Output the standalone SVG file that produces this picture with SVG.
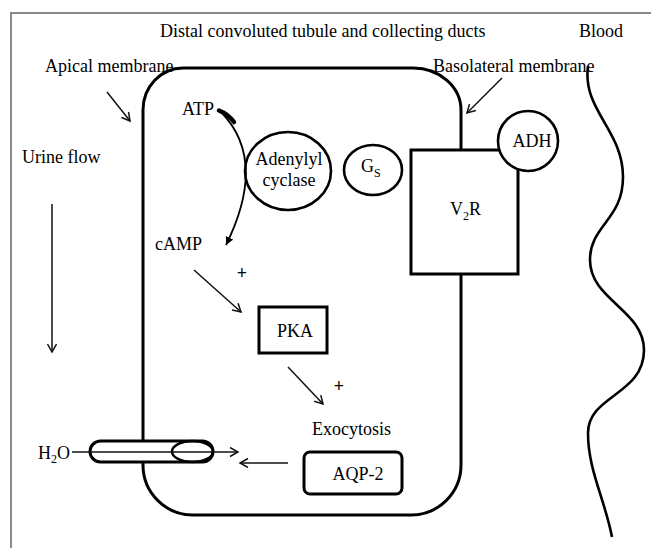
<svg xmlns="http://www.w3.org/2000/svg" width="651" height="548" viewBox="0 0 651 548">
<style>
text{font-family:"Liberation Serif","Times New Roman",serif;font-size:18px;fill:#000}
.sub{font-size:12px}
.plus{font-weight:bold}
.thick{fill:#fff;stroke:#000;stroke-width:3}
.med{fill:#fff;stroke:#000;stroke-width:2.6}
.arr{fill:none;stroke:#111;stroke-width:1.5;marker-end:url(#v)}
</style>
<defs>
<marker id="v" markerUnits="userSpaceOnUse" markerWidth="14" markerHeight="14" refX="9" refY="5" orient="auto">
<path d="M1,0.5 L9,5 L1,9.5" fill="none" stroke="#111" stroke-width="1.5"/>
</marker>
<marker id="fa" markerUnits="userSpaceOnUse" markerWidth="12" markerHeight="12" refX="8" refY="4" orient="auto">
<path d="M0,0 L8,4 L0,8 Z" fill="#000"/>
</marker>
</defs>
<rect x="11" y="13" width="700" height="600" fill="#fff" stroke="#8a8a8a" stroke-width="2"/>
<g id="labels">
<text x="160" y="37">Distal convoluted tubule and collecting ducts</text>
<text x="579" y="37">Blood</text>
<text x="45" y="72">Apical membrane</text>
<text x="433" y="72">Basolateral membrane</text>
<text x="22" y="163">Urine flow</text>
<text x="242" y="279" text-anchor="middle" class="plus">+</text>
<text x="339" y="392" text-anchor="middle" class="plus">+</text>
</g>
<g id="cell">
<path d="M143,110 A40,42 0 0 1 183,68 L413,68 A48,42 0 0 1 461,110 L461,465 A50,50 0 0 1 411,515 L193,515 A50,50 0 0 1 143,465 Z" fill="none" stroke="#000" stroke-width="3"/>
</g>
<g id="blood">
<path d="M588,66 C582,110 623,130 623,177 C623,220 590,225 590,260 C590,300 644,310 644,350 C644,395 588,395 588,433 C588,470 605,500 612,537" fill="none" stroke="#000" stroke-width="2.6"/>
</g>
<g id="atp"><text x="182" y="115">ATP</text></g>
<g id="camp"><text x="155" y="250">cAMP</text></g>
<g id="adenylyl">
<ellipse cx="288" cy="171" rx="43" ry="39" class="med"/>
<text x="289" y="165" text-anchor="middle">Adenylyl</text>
<text x="289" y="186" text-anchor="middle">cyclase</text>
</g>
<g id="gs">
<ellipse cx="373" cy="170" rx="29" ry="25" class="med"/>
<text x="361" y="172">G<tspan class="sub" dy="5">S</tspan></text>
</g>
<g id="v2r">
<rect x="411" y="150" width="107" height="124" class="thick"/>
<text x="450" y="215">V<tspan class="sub" dy="5">2</tspan><tspan dy="-5">R</tspan></text>
</g>
<g id="adh">
<circle cx="528" cy="141" r="30" class="med"/>
<text x="532" y="147" text-anchor="middle">ADH</text>
</g>
<g id="pka">
<rect x="259" y="307" width="68" height="46" class="thick"/>
<text x="295" y="337" text-anchor="middle">PKA</text>
</g>
<g id="exocytosis"><text x="312" y="435">Exocytosis</text></g>
<g id="aqp2">
<rect x="304" y="452" width="98" height="42" rx="6" class="thick"/>
<text x="358" y="480" text-anchor="middle">AQP-2</text>
</g>
<g id="channel">
<rect x="90" y="441" width="123" height="21" rx="10.5" class="thick"/>
<ellipse cx="192.5" cy="451.5" rx="20.5" ry="10.5" fill="none" stroke="#000" stroke-width="2.4"/>
</g>
<g id="h2o"><text x="38" y="459">H<tspan class="sub" dy="4">2</tspan><tspan dy="-4">O</tspan></text></g>
<g id="connectors">
<line x1="107" y1="92" x2="130" y2="121" class="arr"/>
<line x1="502" y1="78" x2="467" y2="113" class="arr"/>
<line x1="52" y1="204" x2="52" y2="352" class="arr"/>
<line x1="194" y1="270" x2="241" y2="312" class="arr"/>
<line x1="288" y1="367" x2="323" y2="404" class="arr"/>
<line x1="72" y1="452" x2="238" y2="452" class="arr"/>
<line x1="288" y1="463" x2="240" y2="463" class="arr"/>
<path d="M221,112 Q268,160 226,245" fill="none" stroke="#000" stroke-width="1.8" marker-end="url(#fa)"/>
<path d="M219,110.5 Q228,114 234,122" fill="none" stroke="#000" stroke-width="4.5" stroke-linecap="round"/>
</g>
</svg>
